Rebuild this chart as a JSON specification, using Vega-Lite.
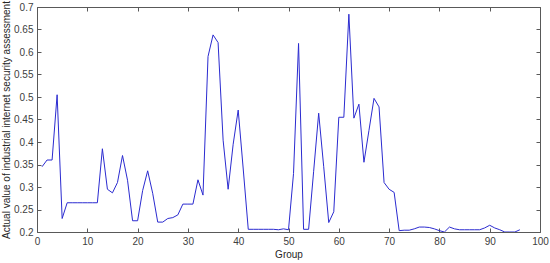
{
  "$schema": "https://vega.github.io/schema/vega-lite/v6.json",
  "width": 503,
  "height": 225,
  "autosize": "none",
  "padding": {"left": 37, "top": 7, "right": 10, "bottom": 31},
  "background": "white",
  "config": {
    "font": "Liberation Sans",
    "view": {"stroke": null},
    "axis": {
      "grid": false,
      "domainColor": "#595959",
      "tickColor": "#595959",
      "labelColor": "#404040",
      "titleColor": "#262626",
      "labelFont": "Liberation Sans",
      "titleFont": "Liberation Sans",
      "labelFontSize": 10,
      "titleFontSize": 10,
      "titleFontWeight": "normal",
      "tickSize": -4
    }
  },
  "data": {
    "values": [
      {"group": 1, "value": 0.345},
      {"group": 2, "value": 0.36},
      {"group": 3, "value": 0.36},
      {"group": 4, "value": 0.505},
      {"group": 5, "value": 0.23},
      {"group": 6, "value": 0.265},
      {"group": 7, "value": 0.265},
      {"group": 8, "value": 0.265},
      {"group": 9, "value": 0.265},
      {"group": 10, "value": 0.265},
      {"group": 11, "value": 0.265},
      {"group": 12, "value": 0.265},
      {"group": 13, "value": 0.385},
      {"group": 14, "value": 0.295},
      {"group": 15, "value": 0.287},
      {"group": 16, "value": 0.31},
      {"group": 17, "value": 0.37},
      {"group": 18, "value": 0.315},
      {"group": 19, "value": 0.225},
      {"group": 20, "value": 0.225},
      {"group": 21, "value": 0.292},
      {"group": 22, "value": 0.336},
      {"group": 23, "value": 0.286},
      {"group": 24, "value": 0.222},
      {"group": 25, "value": 0.222},
      {"group": 26, "value": 0.23},
      {"group": 27, "value": 0.232},
      {"group": 28, "value": 0.238},
      {"group": 29, "value": 0.262},
      {"group": 30, "value": 0.262},
      {"group": 31, "value": 0.262},
      {"group": 32, "value": 0.316},
      {"group": 33, "value": 0.282},
      {"group": 34, "value": 0.59},
      {"group": 35, "value": 0.638},
      {"group": 36, "value": 0.621},
      {"group": 37, "value": 0.404},
      {"group": 38, "value": 0.295},
      {"group": 39, "value": 0.395},
      {"group": 40, "value": 0.471},
      {"group": 41, "value": 0.34},
      {"group": 42, "value": 0.206},
      {"group": 43, "value": 0.206},
      {"group": 44, "value": 0.206},
      {"group": 45, "value": 0.206},
      {"group": 46, "value": 0.206},
      {"group": 47, "value": 0.206},
      {"group": 48, "value": 0.205},
      {"group": 49, "value": 0.207},
      {"group": 50, "value": 0.205},
      {"group": 51, "value": 0.33},
      {"group": 52, "value": 0.619},
      {"group": 53, "value": 0.206},
      {"group": 54, "value": 0.206},
      {"group": 55, "value": 0.335},
      {"group": 56, "value": 0.464},
      {"group": 57, "value": 0.345},
      {"group": 58, "value": 0.221},
      {"group": 59, "value": 0.245},
      {"group": 60, "value": 0.455},
      {"group": 61, "value": 0.455},
      {"group": 62, "value": 0.684},
      {"group": 63, "value": 0.453},
      {"group": 64, "value": 0.484},
      {"group": 65, "value": 0.355},
      {"group": 66, "value": 0.426},
      {"group": 67, "value": 0.497},
      {"group": 68, "value": 0.478},
      {"group": 69, "value": 0.31},
      {"group": 70, "value": 0.295},
      {"group": 71, "value": 0.288},
      {"group": 72, "value": 0.203},
      {"group": 73, "value": 0.204},
      {"group": 74, "value": 0.204},
      {"group": 75, "value": 0.207},
      {"group": 76, "value": 0.211},
      {"group": 77, "value": 0.211},
      {"group": 78, "value": 0.21},
      {"group": 79, "value": 0.207},
      {"group": 80, "value": 0.203},
      {"group": 81, "value": 0.2},
      {"group": 82, "value": 0.211},
      {"group": 83, "value": 0.207},
      {"group": 84, "value": 0.205},
      {"group": 85, "value": 0.205},
      {"group": 86, "value": 0.205},
      {"group": 87, "value": 0.205},
      {"group": 88, "value": 0.205},
      {"group": 89, "value": 0.209},
      {"group": 90, "value": 0.215},
      {"group": 91, "value": 0.209},
      {"group": 92, "value": 0.205},
      {"group": 93, "value": 0.2},
      {"group": 94, "value": 0.2},
      {"group": 95, "value": 0.2},
      {"group": 96, "value": 0.205}
    ]
  },
  "layer": [
    {
      "mark": {"type": "line", "color": "#2b2bd0", "strokeWidth": 1, "clip": true},
      "encoding": {
        "x": {
          "field": "group", "type": "quantitative",
          "scale": {"domain": [0, 100], "nice": false, "zero": false},
          "axis": {"values": [0,10,20,30,40,50,60,70,80,90,100], "title": "Group", "labelPadding": 8, "titlePadding": 3, "labelFlush": false}
        },
        "y": {
          "field": "value", "type": "quantitative",
          "scale": {"domain": [0.2, 0.7], "nice": false, "zero": false},
          "axis": {"values": [0.2,0.25,0.3,0.35,0.4,0.45,0.5,0.55,0.6,0.65,0.7], "format": "~g", "title": "Actual value of industrial internet security assessment", "labelPadding": 8, "titlePadding": 2, "labelFlush": false}
        }
      }
    },
    {
      "mark": {"type": "line", "opacity": 0},
      "encoding": {
        "x": {
          "field": "group", "type": "quantitative",
          "scale": {"domain": [0, 100], "nice": false, "zero": false},
          "axis": {"orient": "top", "values": [0,10,20,30,40,50,60,70,80,90,100], "labels": false, "title": null}
        },
        "y": {
          "field": "value", "type": "quantitative",
          "scale": {"domain": [0.2, 0.7], "nice": false, "zero": false},
          "axis": {"orient": "right", "values": [0.2,0.25,0.3,0.35,0.4,0.45,0.5,0.55,0.6,0.65,0.7], "labels": false, "title": null}
        }
      }
    }
  ],
  "resolve": {"axis": {"x": "independent", "y": "independent"}}
}
